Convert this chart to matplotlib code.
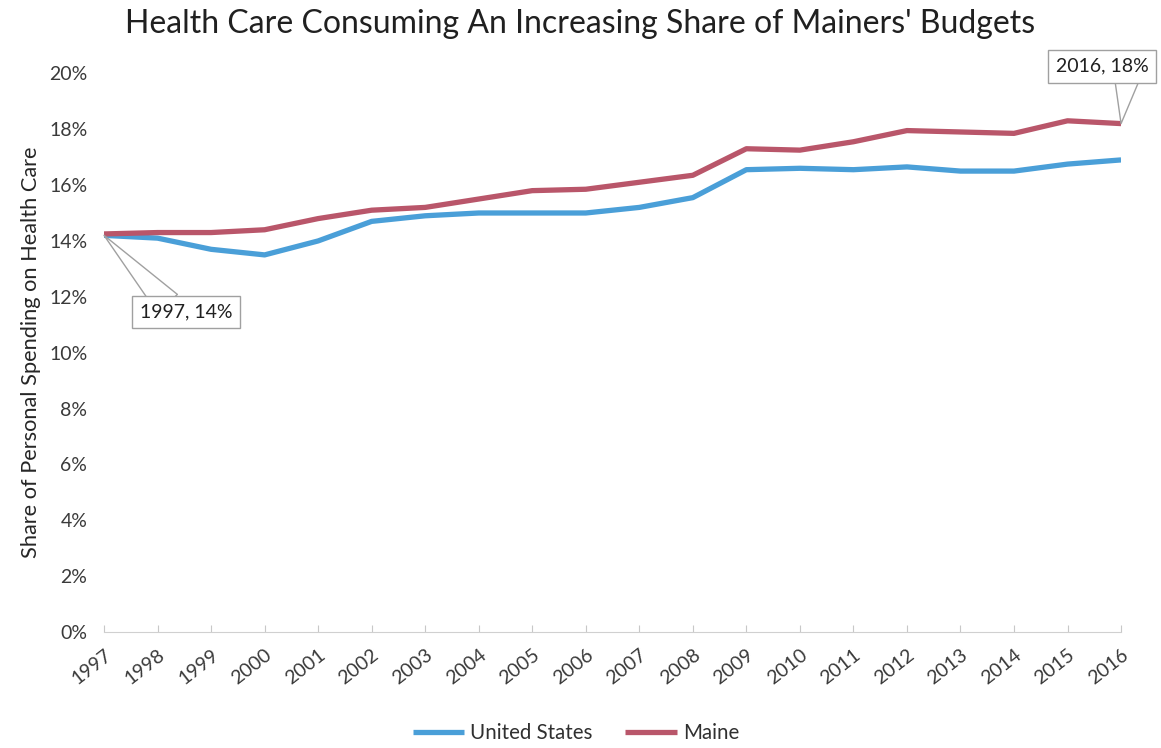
import matplotlib.pyplot as plt
from matplotlib.ticker import PercentFormatter

plt.rcParams['font.family'] = ['Lato', 'DejaVu Sans']

years = list(range(1997, 2017))
us_share = [14.2, 14.1, 13.7, 13.5, 14.0, 14.7, 14.9, 15.0, 15.0, 15.0,
            15.2, 15.55, 16.55, 16.6, 16.55, 16.65, 16.5, 16.5, 16.75, 16.9]
maine_share = [14.25, 14.3, 14.3, 14.4, 14.8, 15.1, 15.2, 15.5, 15.8, 15.85,
               16.1, 16.35, 17.3, 17.25, 17.55, 17.95, 17.9, 17.85, 18.3, 18.2]

blue = '#4a9fd8'
red = '#b9566a'
grey_text = '#3a3a3a'

fig = plt.figure(figsize=(11.61, 7.48), dpi=100)
ax = fig.add_axes([0.0896, 0.155, 0.876, 0.747])

ax.plot(years, us_share, color=blue, lw=3.8, label='United States', solid_capstyle='butt')
ax.plot(years, maine_share, color=red, lw=3.8, label='Maine', solid_capstyle='butt')

ax.set_xlim(1997, 2016)
ax.set_ylim(0, 20)
ax.set_yticks(range(0, 21, 2))
ax.yaxis.set_major_formatter(PercentFormatter(decimals=0))
ax.set_xticks(years)
ax.set_xticklabels([str(y) for y in years], rotation=38, ha='right',
                   rotation_mode='anchor', fontsize=14, color=grey_text)
ax.tick_params(axis='y', length=0, labelsize=14, labelcolor=grey_text, pad=12)
ax.tick_params(axis='x', direction='in', length=5, color='#c8c8c8', pad=10)

for side in ['top', 'right', 'left']:
    ax.spines[side].set_visible(False)
ax.spines['bottom'].set_color('#d0d0d0')

ax.set_ylabel('Share of Personal Spending on Health Care', fontsize=15.7,
              color='#262626', labelpad=6)
fig.suptitle("Health Care Consuming An Increasing Share of Mainers' Budgets",
             fontsize=23, color='#202020', y=0.988)

# callout labels
box = dict(boxstyle='square,pad=0.4', fc='white', ec='#a0a0a0', lw=1)


def callout(relpos):
    return dict(arrowstyle='wedge,tail_width=1.4,shrink_factor=0.5', fc='white',
                ec='#a0a0a0', lw=1, shrinkA=0, shrinkB=0, patchA=None,
                relpos=relpos)


ax.annotate('1997, 14%', xy=(years[0], us_share[0]), xytext=(1998.53, 11.45),
            ha='center', va='center', fontsize=14, color='#202020',
            bbox=box, arrowprops=callout((0.3, 1.0)), annotation_clip=False)
ax.annotate('2016, 18%', xy=(years[-1], maine_share[-1]), xytext=(2015.65, 20.25),
            ha='center', va='center', fontsize=14, color='#202020',
            bbox=box, arrowprops=callout((0.77, 0.0)), annotation_clip=False)

ax.legend(loc='upper center', bbox_to_anchor=(0.464, -0.13), ncol=2,
          frameon=False, fontsize=14.8, handlelength=2.5, handletextpad=0.3,
          columnspacing=1.6, labelcolor='#303030')

fig.savefig('out.png', dpi=100)
